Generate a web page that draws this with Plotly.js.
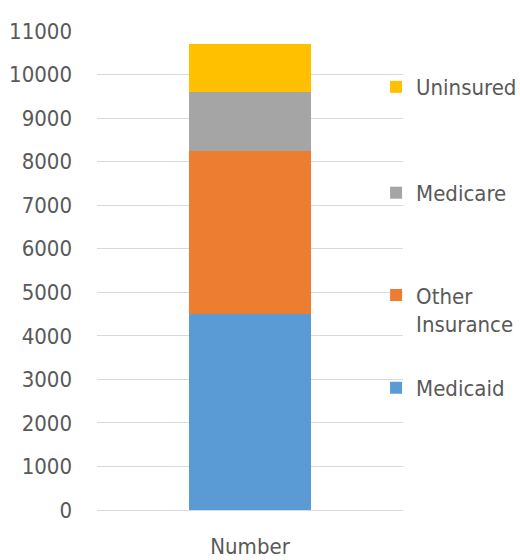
<!DOCTYPE html>
<html>
<head>
<meta charset="utf-8">
<script src="https://cdn.plot.ly/plotly-3.0.1.min.js"></script>
<style>html,body{margin:0;padding:0;background:#fff;}#chart{width:520px;height:560px;}</style>
</head>
<body>
<div id="chart"></div>
<script>
var categories = ["Number"];
var seriesNames = ["Medicaid", "Other<br>Insurance", "Medicare", "Uninsured"];
var medicaid = [4500];
var otherInsurance = [3750];
var medicare = [1350];
var uninsured = [1100];
var yTicks = [0, 1000, 2000, 3000, 4000, 5000, 6000, 7000, 8000, 9000, 10000, 11000];

var colors = ["#5b9bd5", "#ed7d31", "#a5a5a5", "#ffc000"];
var values = [medicaid, otherInsurance, medicare, uninsured];
var legends = ["legend4", "legend3", "legend2", "legend"];
var FONT = "'DejaVu Sans Condensed', 'Liberation Sans Narrow', sans-serif";
var TXT = "#595959";
var FS = 22;

var traces = values.map(function (v, i) {
  return {
    type: "bar",
    x: categories,
    y: v,
    name: seriesNames[i],
    marker: { color: colors[i] },
    width: 0.4,
    legend: legends[i]
  };
});

function leg(y, anchor) {
  return {
    x: 0.912, xanchor: "left",
    y: y, yanchor: anchor,
    bgcolor: "rgba(0,0,0,0)",
    font: { family: FONT, size: FS, color: TXT },
    valign: "top",
    itemclick: false
  };
}

var layout = {
  width: 520,
  height: 560,
  margin: { l: 97, r: 117, t: 31, b: 50, autoexpand: false },
  paper_bgcolor: "#ffffff",
  plot_bgcolor: "#ffffff",
  barmode: "stack",
  font: { family: FONT, size: FS, color: TXT },
  showlegend: true,
  legend: leg(0.883, "middle"),
  legend2: leg(0.662, "middle"),
  legend3: leg(0.418, "middle"),
  legend4: leg(0.255, "middle"),
  xaxis: {
    type: "category",
    showgrid: false,
    zeroline: false,
    showline: false,
    ticks: "",
    ticklabelstandoff: 21,
    tickfont: { family: FONT, size: FS, color: TXT },
    fixedrange: true
  },
  yaxis: {
    range: [0, 11000],
    tickvals: yTicks,
    ticktext: yTicks.map(String),
    showgrid: true,
    gridcolor: "#d9d9d9",
    gridwidth: 1,
    zeroline: true,
    zerolinecolor: "#d9d9d9",
    zerolinewidth: 1,
    showline: false,
    ticks: "",
    ticklabelstandoff: 24,
    tickfont: { family: FONT, size: FS, color: TXT },
    fixedrange: true
  }
};

Plotly.newPlot("chart", traces, layout, { displayModeBar: false, staticPlot: true });
</script>
</body>
</html>
